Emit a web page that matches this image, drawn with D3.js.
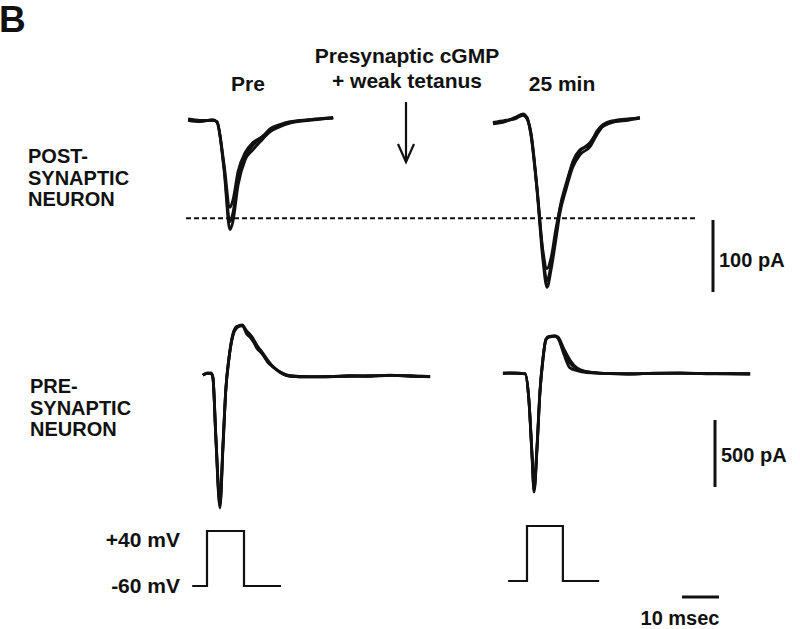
<!DOCTYPE html>
<html>
<head>
<meta charset="utf-8">
<script src="https://cdn.jsdelivr.net/npm/d3@7"></script>
<style>
  body { margin: 0; background: #fff; }
  text { font-family: "Liberation Sans", Arial, Helvetica, sans-serif; font-weight: bold; fill: #111; }
</style>
</head>
<body>
<script>
const width = 800, height = 629;
const svg = d3.select("body").append("svg")
    .attr("width", width)
    .attr("height", height);

// --- data (time in ms from step onset, current in pA, voltage in mV) ---
const postPreTimes = [-5.1, -1.9, 1.6, 2.7, 4.6, 6.2, 7.0, 8.4, 10.3, 12.4, 14.9, 17.0, 19.7, 22.4, 27.8, 34.1];
const postPreSweeps = [
    [2, 0, 1, -1, -68, -151, -140, -89, -54, -40, -26, -15, -8, -3, 1, 4],
    [1, -1, 2, -2, -64, -140, -128, -80, -50, -34, -22, -13, -6, -2, 2, 4],
    [3, 1, 1, -1, -60, -120, -110, -70, -44, -30, -22, -11, -5, -1, 2, 5]
];

const post25Times = [-9.2, -5.9, -3.2, -1.1, 0, 1.1, 2.7, 4.3, 5.4, 6.5, 7.8, 8.9, 10.5, 12.4, 14.3, 17.0, 18.9, 20.5, 23.8, 27.3, 30.5];
const post25Sweeps = [
    [-3, 0, 4, 10, 4, -19, -96, -193, -231, -207, -165, -128, -96, -64, -47, -36, -19, -8, -1, 1, 4],
    [-2, 1, 3, 8, 3, -17, -92, -185, -222, -200, -158, -120, -88, -58, -42, -30, -16, -6, 0, 2, 5],
    [-4, -1, 5, 9, 5, -21, -94, -180, -205, -190, -150, -122, -92, -56, -40, -33, -14, -5, 1, 3, 4]
];

const presPreTimes = [-1.1, 0, 1.1, 1.6, 2.4, 3.5, 4.3, 5.1, 5.9, 7.0, 8.1, 9.5, 10.8, 12.2, 13.5, 15.1, 16.5, 17.8, 19.7, 22.4, 27.8, 33.2, 38.6, 44, 49.5, 55, 60.3];
const presPreSweeps = [
    [7, 22, 22, -15, -478, -985, -552, -104, 119, 306, 366, 381, 321, 269, 216, 157, 104, 67, 30, 0, -7, -7, 0, 0, 7, 0, -7],
    [7, 20, 22, -10, -450, -940, -520, -90, 130, 315, 370, 375, 335, 290, 230, 170, 115, 70, 32, 3, -5, -3, 2, -2, 5, 2, -5],
    [5, 22, 20, -12, -460, -960, -530, -95, 125, 300, 360, 378, 310, 280, 205, 165, 100, 72, 28, -2, -7, -5, -2, 2, 4, -2, -4]
];

const pres25Times = [-6.5, -3.2, -0.5, 0.5, 1.4, 1.9, 2.7, 3.5, 4.3, 5.1, 5.9, 7.6, 8.4, 10.0, 11.6, 13.5, 16.2, 19.7, 27.8, 34, 41.4, 50, 60.3];
const pres25Sweeps = [
    [22, 22, 15, -179, -627, -866, -552, -127, 119, 269, 291, 299, 284, 179, 97, 52, 30, 22, 15, 20, 22, 18, 15],
    [20, 24, 15, -170, -600, -840, -520, -110, 130, 275, 295, 300, 290, 200, 120, 60, 32, 20, 17, 18, 20, 20, 17],
    [22, 20, 17, -175, -610, -850, -540, -120, 125, 270, 290, 296, 280, 160, 60, 40, 26, 22, 14, 22, 24, 16, 15]
];

const stepPreTimes = [-4, 0, 0, 10, 10, 20];
const step25Times = [-5.1, 0, 0, 9.7, 9.7, 19.5];
const stepValues = [-60, -60, 40, 40, -60, -60];

const dashLevel = -135; // pA, peak of control EPSC

// --- panel layout ---
const panels = [
    { x0: 207, label: "Pre", labelX: 248, post: [postPreTimes, postPreSweeps], pres: [presPreTimes, presPreSweeps], step: stepPreTimes, stepBase: 586 },
    { x0: 527, label: "25 min", labelX: 562, post: [post25Times, post25Sweeps], pres: [pres25Times, pres25Sweeps], step: step25Times, stepBase: 581 }
];

const yPost = d3.scaleLinear().domain([0, -100]).range([121, 193]);
const yPres = d3.scaleLinear().domain([0, -500]).range([376, 443]);
const pxPerMs = 3.7;

function drawSweeps(xs, times, sweeps, y) {
    const line = d3.line()
        .x((d, i) => xs(times[i]))
        .y(d => y(d))
        .curve(d3.curveMonotoneX);
    svg.append("g").selectAll("path")
        .data(sweeps)
        .enter()
        .append("path")
        .attr("d", line)
        .attr("fill", "none")
        .attr("stroke", "#111")
        .attr("stroke-width", 2.8)
        .attr("stroke-linejoin", "round");
}

panels.forEach(p => {
    const x = d3.scaleLinear().domain([0, 10]).range([p.x0, p.x0 + 10 * pxPerMs]);
    drawSweeps(x, p.post[0], p.post[1], yPost);
    drawSweeps(x, p.pres[0], p.pres[1], yPres);

    const yStep = d3.scaleLinear().domain([-60, 40]).range([p.stepBase, p.stepBase - 55]);
    svg.append("path")
        .attr("d", d3.line().x((d, i) => x(p.step[i])).y(d => yStep(d))(stepValues))
        .attr("fill", "none")
        .attr("stroke", "#111")
        .attr("stroke-width", 2.2);

    svg.append("text")
        .attr("x", p.labelX)
        .attr("y", 91)
        .attr("text-anchor", "middle")
        .attr("font-size", "21px")
        .text(p.label);
});

// dashed reference line
svg.append("line")
    .attr("x1", 186).attr("x2", 697)
    .attr("y1", yPost(dashLevel)).attr("y2", yPost(dashLevel))
    .attr("stroke", "#111")
    .attr("stroke-width", 2)
    .attr("stroke-dasharray", "5,3");

// arrow
svg.append("line")
    .attr("x1", 406).attr("x2", 406).attr("y1", 102).attr("y2", 161)
    .attr("stroke", "#111").attr("stroke-width", 2.2);
svg.append("path")
    .attr("d", "M398,144 L406,162 L414,144")
    .attr("fill", "none").attr("stroke", "#111").attr("stroke-width", 2.2);

// scale bars
const bars = [
    { x1: 713, x2: 713, y1: 220, y2: 220 + (yPost(-100) - yPost(0)), label: "100 pA", lx: 719, ly: 267 },
    { x1: 715, x2: 715, y1: 420, y2: 420 + (yPres(-500) - yPres(0)), label: "500 pA", lx: 721, ly: 462 },
    { x1: 682, x2: 682 + 10 * pxPerMs, y1: 597, y2: 597, label: "10 msec", lx: 680, ly: 625, anchor: "middle" }
];
bars.forEach(b => {
    svg.append("line")
        .attr("x1", b.x1).attr("x2", b.x2).attr("y1", b.y1).attr("y2", b.y2)
        .attr("stroke", "#111").attr("stroke-width", 3);
    svg.append("text")
        .attr("x", b.lx).attr("y", b.ly)
        .attr("text-anchor", b.anchor || "start")
        .attr("font-size", "20px")
        .text(b.label);
});

// titles and row labels
svg.append("text").attr("x", -1).attr("y", 32).attr("font-size", "37px").text("B");

svg.append("text").attr("x", 407).attr("y", 63).attr("text-anchor", "middle")
    .attr("font-size", "21px").text("Presynaptic cGMP");
svg.append("text").attr("x", 407).attr("y", 88).attr("text-anchor", "middle")
    .attr("font-size", "21px").text("+ weak tetanus");

const rowLabels = [
    { lines: ["POST-", "SYNAPTIC", "NEURON"], x: 28, y: 163 },
    { lines: ["PRE-", "SYNAPTIC", "NEURON"], x: 30, y: 393 }
];
rowLabels.forEach(r => {
    svg.append("g").selectAll("text")
        .data(r.lines)
        .enter()
        .append("text")
        .attr("x", r.x)
        .attr("y", (d, i) => r.y + i * 21.5)
        .attr("font-size", "20px")
        .text(d => d);
});

const vLabels = [
    { text: "+40 mV", y: 547 },
    { text: "-60 mV", y: 593 }
];
svg.selectAll(".vlabel")
    .data(vLabels)
    .enter()
    .append("text")
    .attr("class", "vlabel")
    .attr("x", 180)
    .attr("y", d => d.y)
    .attr("text-anchor", "end")
    .attr("font-size", "21px")
    .text(d => d.text);
</script>
</body>
</html>
